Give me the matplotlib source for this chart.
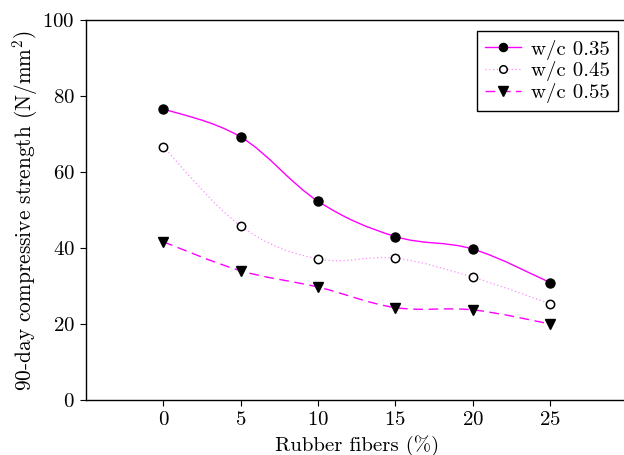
import numpy as np
import matplotlib
matplotlib.use("Agg")
import matplotlib.pyplot as plt
from matplotlib.path import Path
from matplotlib.patches import PathPatch
from matplotlib.lines import Line2D

fibers = [0, 5, 10, 15, 20, 25]
wc035 = [76.7, 69.3, 52.4, 43.1, 39.8, 31.0]
wc045 = [66.7, 45.9, 37.2, 37.4, 32.4, 25.4]
wc055 = [41.7, 34.1, 29.8, 24.4, 23.8, 20.1]
labels = ["w/c 0.35", "w/c 0.45", "w/c 0.55"]
xticks = [0, 5, 10, 15, 20, 25]
yticks = [0, 20, 40, 60, 80, 100]

plt.rcParams['font.family'] = 'serif'
plt.rcParams['font.serif'] = ['cmr10']
plt.rcParams['mathtext.fontset'] = 'cm'
plt.rcParams['axes.formatter.use_mathtext'] = True

FS = 15
fig = plt.figure(figsize=(6.24, 4.55), dpi=100)
W, H = 624, 455
ax = fig.add_axes([86/W, 1 - 400.3/H, 541.3/W, 380/H])
ax.set_xlim(-5, 30)
ax.set_ylim(0, 100)

def smooth_path(xs, ys, t=0.18):
    p = np.column_stack([xs, ys]).astype(float)
    n = len(p)
    verts = [p[0]]
    codes = [Path.MOVETO]
    for i in range(n - 1):
        prev = p[i - 1] if i > 0 else p[i]
        nxt2 = p[i + 2] if i + 2 < n else p[i + 1]
        c1 = p[i] + (p[i + 1] - prev) * t
        c2 = p[i + 1] - (nxt2 - p[i]) * t
        verts += [c1, c2, p[i + 1]]
        codes += [Path.CURVE4] * 3
    return Path(verts, codes)

mag = '#ff00ff'
styles = [
    dict(ls='-', lw=1.0, color=mag, marker='o', mfc='black', mec='black', ms=6.5),
    dict(ls=(0, (1, 2)), lw=0.9, color='#ff8cff', marker='o', mfc='white', mec='black', ms=6.0, mew=1.1),
    dict(ls=(0, (7, 4)), lw=1.0, color=mag, marker='v', mfc='black', mec='black', ms=7.5),
]
handles = []
for ys, st, lab in zip([wc035, wc045, wc055], styles, labels):
    patch = PathPatch(smooth_path(fibers, ys), fill=False, edgecolor=st['color'],
                      lw=st['lw'], linestyle=st['ls'], zorder=2)
    ax.add_patch(patch)
    ax.plot(fibers, ys, ls='none', marker=st['marker'], mfc=st['mfc'], mec=st['mec'],
            ms=st['ms'], mew=st.get('mew', 1.0), zorder=3)
    handles.append(Line2D([], [], color=st['color'], ls=st['ls'], lw=st['lw'],
                          marker=st['marker'], mfc=st['mfc'], mec=st['mec'],
                          ms=st['ms'] * 0.9, mew=st.get('mew', 1.0), label=lab))

ax.set_xticks(xticks)
ax.set_yticks(yticks)
ax.tick_params(direction='out', length=4, labelsize=FS, width=0.8, pad=4)
for s in ['left', 'bottom', 'top']:
    ax.spines[s].set_linewidth(1.0)
ax.spines['right'].set_visible(False)

ax.set_xlabel('Rubber fibers (%)', fontsize=FS, labelpad=4)
ax.set_ylabel('90-day compressive strength (N/mm$^2$)', fontsize=15.4, labelpad=2)

leg = ax.legend(handles=handles, loc='upper right',
                bbox_to_anchor=((618 - 86) / 541.3, 1 - 11 / 380),
                borderaxespad=0, fontsize=FS, fancybox=False, edgecolor='black', framealpha=1,
                handlelength=1.75, handletextpad=0.45, borderpad=0.4, labelspacing=0.08)
leg.get_frame().set_linewidth(1.0)

fig.savefig('out.png', dpi=100)
